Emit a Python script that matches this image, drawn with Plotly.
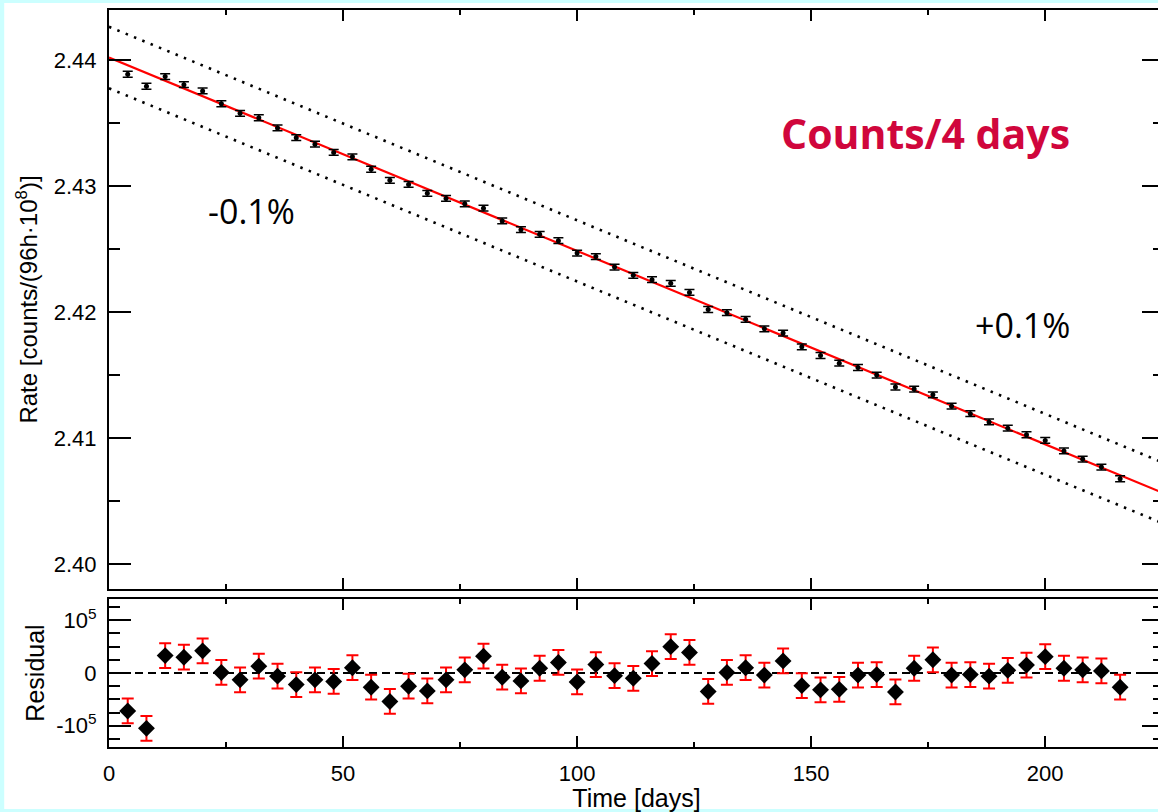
import plotly.graph_objects as go

# ---- data ----
days = [4, 8, 12, 16, 20, 24, 28, 32, 36, 40, 44, 48, 52, 56, 60, 64, 68, 72,
        76, 80, 84, 88, 92, 96, 100, 104, 108, 112, 116, 120, 124, 128, 132, 136,
        140, 144, 148, 152, 156, 160, 164, 168, 172, 176, 180, 184, 188, 192, 196,
        200, 204, 208, 212, 216]

rate = [2.43887, 2.43792, 2.43869, 2.43804, 2.43755, 2.43653, 2.43577, 2.43542,
        2.43461, 2.43384, 2.43332, 2.43267, 2.43232, 2.43133, 2.43045, 2.43013,
        2.42942, 2.42902, 2.42859, 2.42824, 2.42723, 2.42654, 2.42617, 2.42566,
        2.42468, 2.42440, 2.42357, 2.42291, 2.42257, 2.42228, 2.42156, 2.42020,
        2.41995, 2.41942, 2.41867, 2.41833, 2.41724, 2.41655, 2.41594, 2.41560,
        2.41500, 2.41405, 2.41389, 2.41343, 2.41253, 2.41193, 2.41128, 2.41078,
        2.41026, 2.40981, 2.40898, 2.40833, 2.40770, 2.40677]
rate_err = 0.00023

residual = [-0.72e5, -1.05e5, 0.33e5, 0.30e5, 0.42e5, 0.01e5, -0.13e5, 0.13e5,
            -0.06e5, -0.22e5, -0.13e5, -0.16e5, 0.10e5, -0.27e5, -0.54e5, -0.25e5,
            -0.34e5, -0.13e5, 0.06e5, 0.32e5, -0.08e5, -0.15e5, 0.09e5, 0.20e5,
            -0.17e5, 0.16e5, -0.05e5, -0.10e5, 0.18e5, 0.50e5, 0.39e5, -0.35e5,
            0.01e5, 0.10e5, -0.04e5, 0.23e5, -0.24e5, -0.32e5, -0.31e5, -0.04e5,
            -0.03e5, -0.36e5, 0.09e5, 0.25e5, -0.04e5, -0.03e5, -0.06e5, 0.05e5,
            0.15e5, 0.31e5, 0.09e5, 0.06e5, 0.04e5, -0.27e5]
residual_err = 0.235e5

fit_t = [0, 226]
fit_rate = [2.44020, 2.40551]
upper_rate = [2.44264, 2.40792]   # +0.1 %
lower_rate = [2.43776, 2.40310]   # -0.1 %
zero_t = [0, 226]
zero_res = [0, 0]

y_ticks = [2.40, 2.41, 2.42, 2.43, 2.44]
res_ticks = [-1e5, 0, 1e5]
res_ticktext = ["-10<sup>5</sup>", "0", "10<sup>5</sup>"]
x_ticks = [0, 50, 100, 150, 200]

FONT = "Liberation Sans, Arial, sans-serif"

fig = go.Figure()

# top panel
fig.add_trace(go.Scatter(x=fit_t, y=upper_rate, mode="lines",
                         line=dict(color="black", width=2.6, dash="2.5px,6.5px"),
                         xaxis="x", yaxis="y", hoverinfo="skip"))
fig.add_trace(go.Scatter(x=fit_t, y=lower_rate, mode="lines",
                         line=dict(color="black", width=2.6, dash="2.5px,6.5px"),
                         xaxis="x", yaxis="y", hoverinfo="skip"))
fig.add_trace(go.Scatter(x=fit_t, y=fit_rate, mode="lines",
                         line=dict(color="#ff0000", width=2.2),
                         xaxis="x", yaxis="y"))
fig.add_trace(go.Scatter(x=days, y=rate, mode="markers",
                         marker=dict(color="black", size=5),
                         error_y=dict(type="constant", value=rate_err,
                                      color="black", thickness=1.5, width=5),
                         xaxis="x", yaxis="y"))

# bottom panel
fig.add_trace(go.Scatter(x=zero_t, y=zero_res, mode="lines",
                         line=dict(color="black", width=1.8, dash="8px,5px"),
                         xaxis="x2", yaxis="y2"))
fig.add_trace(go.Scatter(x=days, y=residual, mode="markers",
                         marker=dict(color="black", size=13, symbol="diamond"),
                         error_y=dict(type="constant", value=residual_err,
                                      color="#ff0000", thickness=2, width=6),
                         xaxis="x2", yaxis="y2"))

axis_common = dict(showline=True, linewidth=2, linecolor="black",
                   mirror="allticks", ticks="inside", tickwidth=2,
                   tickcolor="black", showgrid=False, zeroline=False,
                   tickfont=dict(family=FONT, size=22, color="black"))

# the plot frame runs past the right edge of the 1158 px window, as in the reference
W, H = 1166, 812
L, R, T, B = 109, 0, 10, 65
pw, ph = W - L - R, H - T - B
x_max = pw / 4.69

fig.update_layout(
    width=W, height=H,
    margin=dict(l=L, r=R, t=T, b=B),
    paper_bgcolor="#ccffff",
    plot_bgcolor="white",
    showlegend=False,
    xaxis=dict(axis_common, domain=[0, 1], range=[0, x_max], anchor="y",
               tickvals=x_ticks, showticklabels=False, ticklen=11,
               minor=dict(dtick=25, tick0=0, ticklen=5, tickwidth=2,
                          ticks="inside", tickcolor="black")),
    yaxis=dict(axis_common, domain=[(747 - 589) / ph, 1],
               range=[2.39802, 2.44397], anchor="x",
               tickvals=y_ticks, tickformat=".2f", ticklen=22,
               ticklabelstandoff=6,
               minor=dict(dtick=0.005, tick0=2.40, ticklen=11, tickwidth=2,
                          ticks="inside", tickcolor="black"),
               title=dict(text="Rate [counts/(96h·10<sup>8</sup>)]",
                          font=dict(family=FONT, size=24, color="black"),
                          standoff=9)),
    xaxis2=dict(axis_common, domain=[0, 1], range=[0, x_max], anchor="y2",
                tickvals=x_ticks, ticklen=11, ticklabelstandoff=6,
                minor=dict(dtick=25, tick0=0, ticklen=5, tickwidth=2,
                           ticks="inside", tickcolor="black"),
                title=dict(text="Time [days]",
                           font=dict(family=FONT, size=25, color="black"),
                           standoff=6)),
    yaxis2=dict(axis_common, domain=[0, (747 - 599) / ph],
                range=[-1.404e5, 1.404e5], anchor="x2",
                tickvals=res_ticks, ticktext=res_ticktext, ticklen=22,
                ticklabelstandoff=6,
                minor=dict(dtick=0.25e5, tick0=0, ticklen=11, tickwidth=2,
                           ticks="inside", tickcolor="black"),
                title=dict(text="Residual",
                           font=dict(family=FONT, size=25, color="black"),
                           standoff=4)),
)

# white page inside a thin light-cyan frame
fig.add_shape(type="rect", xref="paper", yref="paper", layer="below",
              x0=(4 - L) / pw, x1=1.02, y0=(747 - 809) / ph, y1=(747 - 3) / ph,
              line=dict(width=0), fillcolor="white")

ann_font = "Open Sans, Lato, sans-serif"
fig.add_annotation(x=174.4, y=2.43421, xref="x", yref="y", showarrow=False,
                   text="<b>Counts/4 days</b>",
                   font=dict(family=ann_font, size=41, color="#d0063c"))
fig.add_annotation(x=30.5, y=2.42802, xref="x", yref="y", showarrow=False,
                   text="-0.1%", font=dict(family=ann_font, size=34, color="black"))
fig.add_annotation(x=195.1, y=2.41897, xref="x", yref="y", showarrow=False,
                   text="+0.1%", font=dict(family=ann_font, size=34, color="black"))

fig.write_html("out.html", config={"displayModeBar": False},
               post_script="document.body.style.margin='0';"
                           "document.body.style.overflow='hidden';"
                           "document.documentElement.style.overflow='hidden';")
